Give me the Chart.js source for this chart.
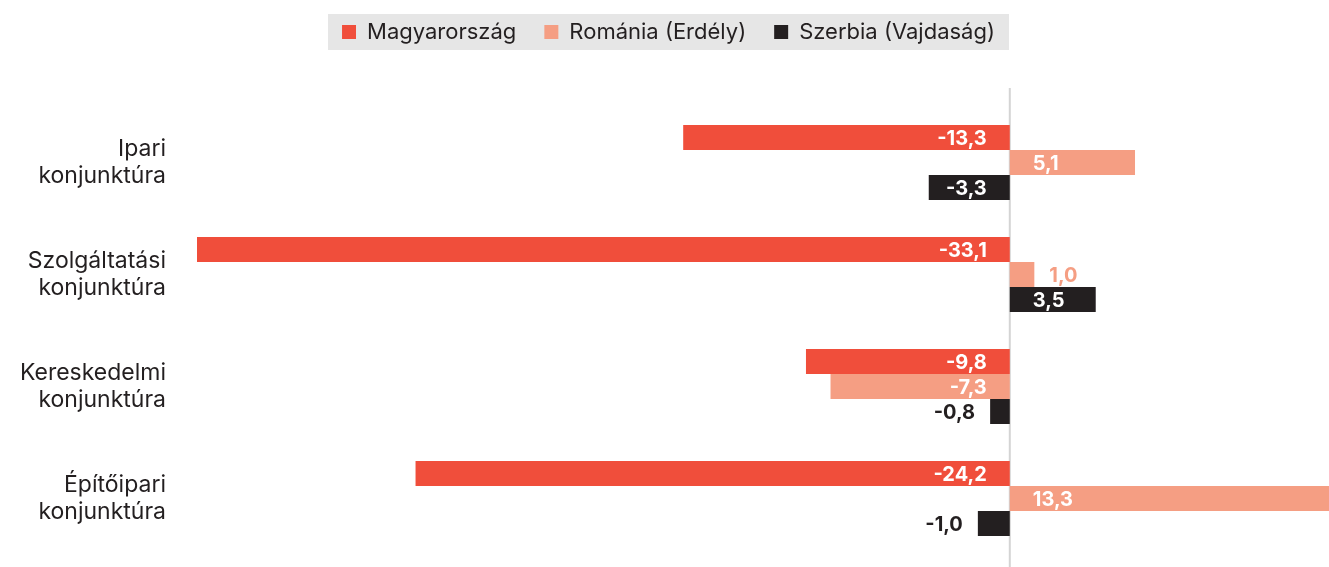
<!DOCTYPE html>
<html>
<head>
<meta charset="utf-8">
<script src="https://cdn.jsdelivr.net/npm/chart.js@4.4.0/dist/chart.umd.min.js"></script>
<style>
html, body { margin: 0; padding: 0; background: #fff; }
#wrap { width: 1329px; height: 567px; }
</style>
</head>
<body>
<div id="wrap"><canvas id="chartKonj"></canvas></div>
<script>
const categories = [
    ['Ipari', 'konjunktúra'],
    ['Szolgáltatási', 'konjunktúra'],
    ['Kereskedelmi', 'konjunktúra'],
    ['Építőipari', 'konjunktúra']
];
const seriesNames = ['Magyarország', 'Románia (Erdély)', 'Szerbia (Vajdaság)'];
// bar lengths as drawn in the picture
const magyarorszag = [-13.3, -33.1, -8.3, -24.2];
const romania = [5.1, 1.0, -7.3, 13.3];
const szerbia = [-3.3, 3.5, -0.8, -1.3];
// values as printed on the bars
const magyarorszagLabels = ['-13,3', '-33,1', '-9,8', '-24,2'];
const romaniaLabels = ['5,1', '1,0', '-7,3', '13,3'];
const szerbiaLabels = ['-3,3', '3,5', '-0,8', '-1,0'];
const colors = ['#f04e3b', '#f59e83', '#231f20'];

// gray box behind the legend items
const legendBox = {
    id: 'legendBox',
    beforeDraw(chart) {
        const hb = chart.legend.legendHitBoxes;
        if (!hb || !hb.length) return;
        const left = Math.min(...hb.map(b => b.left));
        const right = Math.max(...hb.map(b => b.left + b.width));
        const mid = hb[0].top + hb[0].height / 2;
        const ctx = chart.ctx;
        ctx.save();
        ctx.fillStyle = '#e6e6e6';
        ctx.fillRect(left - 14, mid - 18, right - left + 28, 36);
        ctx.restore();
    }
};

// vertical zero line
const zeroLine = {
    id: 'zeroLine',
    beforeDatasetsDraw(chart) {
        const x = chart.scales.x.getPixelForValue(0);
        const ctx = chart.ctx;
        ctx.save();
        ctx.strokeStyle = '#d4d4d4';
        ctx.lineWidth = 2;
        ctx.beginPath();
        ctx.moveTo(x, 88);
        ctx.lineTo(x, chart.height);
        ctx.stroke();
        ctx.restore();
    }
};

// value labels: inside near the zero line, outside if the bar is too short
const valueLabels = {
    id: 'valueLabels',
    afterDatasetsDraw(chart) {
        const ctx = chart.ctx;
        ctx.save();
        ctx.font = 'bold 20px Inter';
        ctx.textBaseline = 'middle';
        chart.data.datasets.forEach((ds, i) => {
            const meta = chart.getDatasetMeta(i);
            meta.data.forEach((bar, j) => {
                const v = ds.data[j];
                const txt = ds.valueLabels[j];
                const tw = ctx.measureText(txt).width;
                const w = Math.abs(bar.x - bar.base);
                let x;
                if (w >= tw + 32) {
                    ctx.fillStyle = '#ffffff';
                    if (v < 0) { ctx.textAlign = 'right'; x = bar.base - 23; }
                    else { ctx.textAlign = 'left'; x = bar.base + 23; }
                } else {
                    ctx.fillStyle = colors[i];
                    if (v < 0) { ctx.textAlign = 'right'; x = bar.x - 15; }
                    else { ctx.textAlign = 'left'; x = bar.x + 15; }
                }
                ctx.fillText(txt, x, bar.y + 1);
            });
        });
        ctx.restore();
    }
};

const ctx = document.getElementById('chartKonj').getContext('2d');
const myChart = new Chart(ctx, {
    type: 'bar',
    data: {
        labels: categories,
        datasets: [
            { label: seriesNames[0], data: magyarorszag, valueLabels: magyarorszagLabels, backgroundColor: colors[0] },
            { label: seriesNames[1], data: romania, valueLabels: romaniaLabels, backgroundColor: colors[1] },
            { label: seriesNames[2], data: szerbia, valueLabels: szerbiaLabels, backgroundColor: colors[2] }
        ]
    },
    options: {
        indexAxis: 'y',
        responsive: true,
        maintainAspectRatio: false,
        animation: false,
        datasets: { bar: { categoryPercentage: 0.67, barPercentage: 1, borderWidth: 0 } },
        layout: { padding: { top: -7, bottom: 12.5, left: 8, right: 0 } },
        plugins: {
            legend: {
                position: 'top',
                labels: {
                    font: { family: 'Inter', size: 22 },
                    color: '#231f20',
                    boxWidth: 14,
                    boxHeight: 14,
                    padding: 28
                }
            },
            tooltip: { enabled: false }
        },
        scales: {
            x: {
                position: 'top',
                min: -33.1,
                max: 13,
                grid: { display: false },
                border: { display: false },
                ticks: { display: false },
                afterFit: s => { s.height = 53.5; }
            },
            y: {
                grid: { display: false },
                border: { display: false },
                ticks: {
                    color: '#231f20',
                    font: { family: 'Inter', size: 23, lineHeight: 1.16 },
                    padding: 23
                },
                afterFit: s => {
                    s.width = 189;
                    s.paddingTop = 0;
                    s.paddingBottom = 0;
                }
            }
        }
    },
    plugins: [legendBox, zeroLine, valueLabels]
});
</script>
</body>
</html>
